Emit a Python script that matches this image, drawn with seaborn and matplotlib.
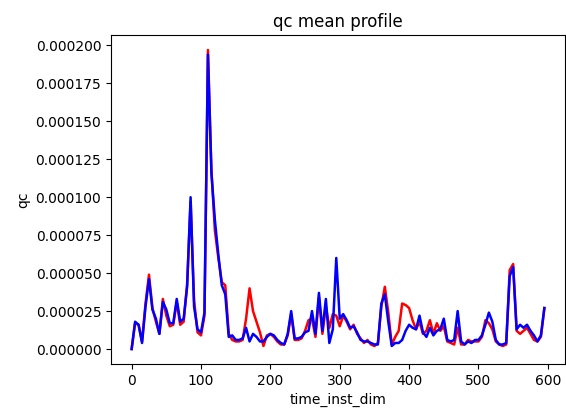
import matplotlib
matplotlib.use("Agg")
import matplotlib.pyplot as plt
import seaborn as sns
import numpy as np
import pandas as pd

# time index, sampled every 5 steps
time_inst_dim = list(range(0, 600, 5))

# qc mean profiles (units of 1e-6)
qc_red = [
    0, 17, 16, 5, 30, 49, 27, 18, 10, 33, 22, 15, 16, 31, 16, 18, 43, 97, 32, 11,
    9, 22, 197, 118, 78, 60, 44, 42, 10, 6, 5, 5, 6, 20, 40, 25, 18, 11, 2, 9,
    10, 8, 5, 3, 3, 9, 23, 6, 6, 7, 12, 19, 20, 8, 34, 10, 28, 14, 23, 22,
    15, 22, 18, 13, 16, 10, 7, 4, 6, 3, 2, 4, 28, 41, 24, 3, 8, 12, 30, 29,
    27, 19, 13, 18, 10, 12, 19, 10, 17, 12, 15, 5, 4, 3, 14, 3, 3, 6, 5, 5,
    5, 8, 19, 17, 13, 5, 3, 2, 3, 52, 56, 12, 10, 12, 14, 10, 6, 5, 8, 27,
]
qc_blue = [
    0, 18, 16, 4, 28, 46, 26, 20, 10, 31, 26, 17, 17, 33, 18, 20, 41, 100, 28, 13,
    11, 24, 194, 116, 85, 62, 42, 36, 8, 9, 6, 6, 7, 14, 5, 10, 8, 5, 5, 8,
    10, 9, 6, 4, 3, 10, 25, 7, 7, 8, 11, 12, 25, 10, 37, 12, 33, 4, 13, 60,
    20, 23, 19, 14, 15, 11, 6, 5, 5, 4, 3, 3, 30, 36, 18, 2, 4, 4, 6, 12,
    16, 14, 13, 22, 11, 8, 14, 9, 12, 13, 20, 6, 5, 6, 25, 5, 3, 5, 4, 6,
    6, 9, 16, 24, 18, 6, 3, 3, 4, 48, 54, 13, 16, 14, 16, 12, 9, 5, 9, 27,
]

df = pd.DataFrame({
    "time_inst_dim": time_inst_dim,
    "red": np.array(qc_red) * 1e-6,
    "blue": np.array(qc_blue) * 1e-6,
})

fig = plt.figure(figsize=(5.66, 4.19), dpi=100)
ax = fig.add_axes([111 / 566, 55 / 419, 454 / 566, 329 / 419])

sns.lineplot(data=df, x="time_inst_dim", y="red", color="red", linewidth=1.8, ax=ax)
sns.lineplot(data=df, x="time_inst_dim", y="blue", color="blue", linewidth=1.8, ax=ax)

ax.set_title("qc mean profile")
ax.set_xlabel("time_inst_dim")
ax.set_ylabel("qc")

fig.savefig("out.png", dpi=100, facecolor="white")
